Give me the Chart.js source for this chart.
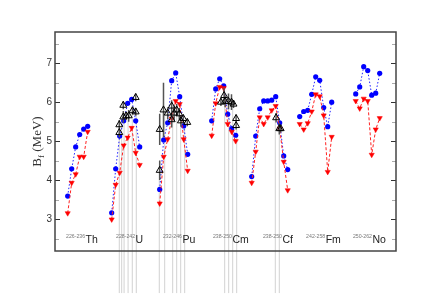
<!DOCTYPE html>
<html>
<head>
<meta charset="utf-8">
<script src="https://cdn.jsdelivr.net/npm/chart.js@4.4.1/dist/chart.umd.min.js"></script>
<style>
  body { margin: 0; background: #fff; }
  canvas { display: block; }
</style>
</head>
<body>
<canvas id="chart" width="431" height="302"></canvas>
<script>
// groups of isotopes, each placed along an index axis
const elements = ['Th', 'U', 'Pu', 'Cm', 'Cf', 'Fm', 'No'];
const massRanges = ['226-236', '228-242', '232-246', '238-250', '238-250', '242-258', '250-262'];
const groupStart = [0, 11, 23, 36, 46, 58, 72];
const labelX = [-0.4, 12.1, 23.8, 36.3, 48.8, 59.6, 71.3];
const labelY = 2.38;

// blue circles (dotted line)
const seriesBlue = [
    [3.59, 4.29, 4.85, 5.17, 5.31, 5.38],
    [3.16, 4.29, 5.13, 5.52, 5.97, 6.07, 5.52, 4.85],
    [3.76, 5.03, 5.47, 6.55, 6.75, 6.14, 5.39, 4.66],
    [5.52, 6.34, 6.60, 6.42, 5.69, 5.32, 5.15],
    [4.09, 5.13, 5.83, 6.03, 6.03, 6.05, 6.14, 5.47, 4.62, 4.27],
    [5.63, 5.76, 5.79, 6.20, 6.65, 6.56, 5.86, 5.37, 6.00],
    [6.21, 6.39, 6.91, 6.81, 6.18, 6.23, 6.74]
];

// red down triangles (dashed line)
const seriesRed = [
    [3.15, 3.93, 4.15, 4.60, 4.60, 5.24],
    [2.99, 3.88, 4.19, 4.89, 5.09, 5.34, 4.70, 4.39],
    [3.40, 4.60, 5.05, 5.58, 6.03, 5.95, 5.05, 4.24],
    [5.14, 5.97, 6.39, 6.36, 5.44, 5.24, 5.00],
    [3.93, 4.73, 5.61, 5.44, 5.61, 5.79, 5.90, 5.32, 4.47, 3.74],
    [5.44, 5.30, 5.46, 5.76, 6.20, 6.15, 5.66, 4.21, 5.11],
    [6.03, 5.84, 6.09, 6.03, 4.65, 5.30, 5.59]
];

// experimental values, open triangles with error bars
const exptX = [12.9, 12.9, 13.9, 13.9, 14.6, 15.25, 16.2, 17.0, 17.0,
    23.0, 23.0, 23.95, 25.0, 26.0, 26.0, 26.6, 27.25, 27.9, 28.3, 28.9, 29.9,
    38.3, 39.1, 39.35, 40.2, 40.95, 41.45, 42.1, 42.1,
    52.1, 52.9, 53.25];
const exptY = [5.42, 5.22, 5.92, 5.62, 5.65, 5.65, 5.78, 6.12, 5.75,
    5.30, 4.25, 5.80, 5.72, 5.90, 5.55, 5.72, 5.80, 5.70, 5.52, 5.58, 5.48,
    6.00, 6.17, 6.02, 6.02, 6.00, 5.95, 5.58, 5.40,
    5.60, 5.32, 5.32];
const exptErr = [0.12, 0.12, 0.10, 0.15, 0.10, 0.15, 0.10, 0.10, 0.10,
    0.40, 0.25, 0.70, 0.15, 0.15, 0.20, 0.20, 0.15, 0.15, 0.15, 0.10, 0.10,
    0.10, 0.20, 0.15, 0.20, 0.20, 0.10, 0.10, 0.10,
    0.12, 0.15, 0.10];

// light grey drop lines below the experimental points
const dropX = [12.9, 13.5, 14.1, 15.1, 16.15, 17.15,
    22.9, 24.25, 26.25, 27.25, 28.25, 29.25,
    39.25, 40.25, 41.25, 42.25,
    51.9, 52.9];
const dropTop = [5.22, 5.60, 5.62, 5.65, 5.75, 5.75,
    4.25, 5.78, 5.55, 5.72, 5.52, 5.50,
    6.00, 6.00, 5.95, 5.40,
    5.60, 5.32];
const dropBottom = 1.1;

function groupPoints(series) {
    const pts = [];
    series.forEach(function (vals, g) {
        vals.forEach(function (v, i) { pts.push({ x: groupStart[g] + i, y: v }); });
        pts.push({ x: groupStart[g] + vals.length, y: null });
    });
    return pts;
}

function segments(xs, lo, hi) {
    const pts = [];
    xs.forEach(function (x, i) {
        pts.push({ x: x, y: lo[i] });
        pts.push({ x: x, y: hi[i] });
        pts.push({ x: x, y: null });
    });
    return pts;
}

const errLo = exptY.map(function (y, i) { return y - exptErr[i]; });
const errHi = exptY.map(function (y, i) { return y + exptErr[i]; });
const dropLo = dropX.map(function () { return dropBottom; });

const framePlugin = {
    id: 'frame',
    afterDraw: function (chart) {
        const ctx = chart.ctx;
        const a = chart.chartArea;
        const xs = chart.scales.x, ys = chart.scales.y;
        ctx.save();
        // inside ticks on left and right
        for (let v = 2.5; v <= 7.6; v += 0.5) {
            const y = Math.round(ys.getPixelForValue(v)) + 0.5;
            const major = Math.abs(v - Math.round(v)) < 1e-6;
            ctx.strokeStyle = major ? '#333' : '#aaa';
            ctx.lineWidth = 1;
            const len = major ? 5 : 4;
            ctx.beginPath();
            ctx.moveTo(a.left, y); ctx.lineTo(a.left + len, y);
            ctx.moveTo(a.right, y); ctx.lineTo(a.right - len, y);
            ctx.stroke();
        }
        ctx.strokeStyle = '#444';
        ctx.lineWidth = 1.5;
        ctx.strokeRect(a.left, a.top, a.right - a.left, a.bottom - a.top);

        // group labels
        elements.forEach(function (el, i) {
            const x = xs.getPixelForValue(labelX[i]);
            const y = ys.getPixelForValue(labelY);
            ctx.font = '5.2px "Liberation Sans"';
            ctx.fillStyle = '#777';
            ctx.textAlign = 'left';
            ctx.textBaseline = 'alphabetic';
            ctx.fillText(massRanges[i], x, y - 5.5);
            const w = ctx.measureText(massRanges[i]).width;
            ctx.font = '10.5px "Liberation Sans"';
            ctx.fillStyle = '#222';
            ctx.fillText(el, x + w + 0.5, y);
        });

        // y axis title B_f (MeV)
        ctx.translate(37.5, (a.top + a.bottom) / 2);
        ctx.rotate(-Math.PI / 2);
        ctx.fillStyle = '#333';
        ctx.textBaseline = 'middle';
        ctx.textAlign = 'left';
        const big = '13px "Liberation Serif"', small = '9px "Liberation Serif"';
        ctx.font = big; const wB = ctx.measureText('B').width;
        ctx.font = small; const wf = ctx.measureText('f').width;
        ctx.font = big; const wR = ctx.measureText(' (MeV)').width;
        let x0 = -(wB + wf + wR) / 2;
        ctx.fillText('B', x0, 0);
        ctx.font = small; ctx.fillText('f', x0 + wB, 4);
        ctx.font = big; ctx.fillText(' (MeV)', x0 + wB + wf, 0);
        ctx.restore();
    }
};

new Chart(document.getElementById('chart'), {
    type: 'scatter',
    data: {
        datasets: [
            {
                data: exptX.map(function (x, i) { return { x: x, y: exptY[i] }; }),
                pointStyle: 'triangle',
                pointRadius: 4,
                pointBorderColor: '#000',
                pointBackgroundColor: 'rgba(0,0,0,0)',
                pointBorderWidth: 1,
                showLine: false
            },
            {
                data: segments(exptX, errLo, errHi),
                showLine: true,
                borderColor: '#555',
                borderWidth: 1.5,
                pointRadius: 0,
                spanGaps: false
            },
            {
                data: groupPoints(seriesRed),
                showLine: true,
                borderColor: '#ff2020',
                borderWidth: 1,
                borderDash: [3, 2],
                pointStyle: 'triangle',
                rotation: 180,
                pointRadius: 3,
                pointBackgroundColor: '#ff0000',
                pointBorderColor: '#ff0000',
                pointBorderWidth: 0.5,
                spanGaps: false
            },
            {
                data: groupPoints(seriesBlue),
                showLine: true,
                borderColor: '#2020ff',
                borderWidth: 1,
                borderDash: [1.5, 2],
                pointStyle: 'circle',
                pointRadius: 2.6,
                pointBackgroundColor: '#0000ff',
                pointBorderColor: '#0000ff',
                pointBorderWidth: 0,
                spanGaps: false
            },
            {
                data: segments(dropX, dropLo, dropTop),
                showLine: true,
                borderColor: '#d2d2d2',
                borderWidth: 1,
                pointRadius: 0,
                spanGaps: false,
                clip: false
            }
        ]
    },
    options: {
        responsive: false,
        animation: false,
        devicePixelRatio: 1,
        layout: { padding: { left: 0, top: 32, right: 35, bottom: 51 } },
        plugins: {
            legend: { display: false },
            tooltip: { enabled: false }
        },
        scales: {
            x: {
                type: 'linear',
                min: -3.17,
                max: 82.07,
                display: false
            },
            y: {
                min: 2.18,
                max: 7.8,
                grid: { display: false, drawTicks: false },
                border: { display: false },
                afterFit: function (s) { s.width = 55; },
                ticks: {
                    stepSize: 1,
                    padding: 3,
                    color: '#333',
                    font: { family: 'Liberation Sans', size: 10 },
                    callback: function (v) { return Number.isInteger(v) ? v : ''; }
                }
            }
        }
    },
    plugins: [framePlugin]
});
</script>
</body>
</html>
